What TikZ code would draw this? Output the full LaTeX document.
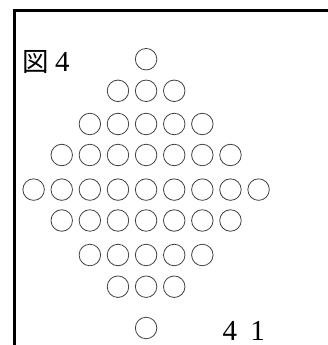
\documentclass[tikz,border=0pt]{standalone}
\usepackage{fontspec}
\setmainfont{Liberation Serif}
\newfontfamily\cjk{Noto Sans CJK JP}
\begin{document}
\begin{tikzpicture}[x=1pt,y=-1pt,
  peg/.style={circle,draw=black!75,line width=0.8pt,minimum size=21.5pt,inner sep=0pt},
  frameline/.style={line width=2.6pt,line cap=rect},
  lbl/.style={inner sep=0pt,anchor=base west,font=\fontsize{29}{29}\selectfont}]
\useasboundingbox (0,0) rectangle (328,345);
\coordinate (tl) at (14.3,10.3);
\coordinate (tr) at (330,10.3);
\coordinate (bl) at (14.3,347);
\draw[frameline] (bl) -- (tl) -- (tr);
\node[lbl] (fig) at (21.8,71) {{\cjk\fontsize{26.5}{26.5}\selectfont 図}\hspace{6.5pt}4};
\node[lbl] (page) at (222.5,340) {4\hspace{13.3pt}1};
\foreach \n/\y [count=\r] in {1/59.2,3/90.8,5/124,7/155,9/189.6,7/220.5,5/255,3/286.7,1/328}{
  \foreach \k in {1,...,\n}{
    \node[peg] (p\r-\k) at ({146.1+28.12*(\k-(\n+1)/2)},\y) {};
  }
}
\end{tikzpicture}
\end{document}
